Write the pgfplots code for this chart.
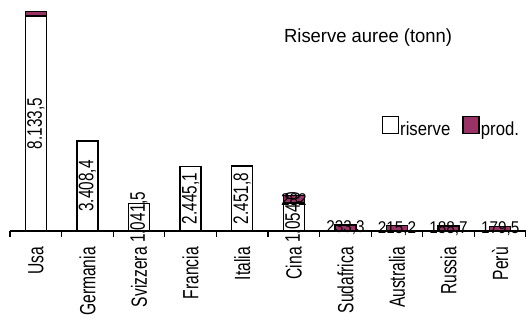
\documentclass[border=0pt]{standalone}
\usepackage{fontspec}
\setmainfont{Liberation Sans}
\newfontfamily\tickfont{Liberation Sans}[FakeStretch=0.71]
\newfontfamily\valfont{Liberation Sans}[FakeStretch=0.73]
\newfontfamily\prodfont{Liberation Sans}[FakeStretch=0.9]
\newfontfamily\titlefont{Liberation Sans}[FakeStretch=0.97]
\newfontfamily\legfont{Liberation Sans}[FakeStretch=0.88]
\usepackage{pgfplots}
\usepackage{pgfplotstable}
\pgfplotsset{compat=1.18}
\definecolor{plum}{RGB}{153,51,102}

\pgfplotstableread{
x riserve prod
0 8133.5 180
1 3408.4 0
2 1041.5 0
3 2445.1 0
4 2451.8 0
5 1054.0 282
6 0 233.3
7 0 215.2
8 0 188.7
9 0 179.5
}\datatable

\pgfplotstableread{
x y label
0 4066.75 8.133,5
1 1704.2 3.408,4
2 520.75 1.041,5
3 1222.55 2.445,1
4 1225.9 2.451,8
5 527.0 1.054,0
}\rlabels

\pgfplotstableread{
x y label
5 1195.0 282
6 116.65 233,3
7 107.6 215,2
8 94.35 188,7
9 89.75 179,5
}\plabels

\begin{document}
\begin{tikzpicture}
\useasboundingbox (-10bp,-93bp) rectangle (516bp,231bp);
\begin{axis}[name=ax, at={(0,0)}, anchor=south west,
  scale only axis, width=516bp, height=231bp,
  xmin=-0.5, xmax=9.5, ymin=0, ymax=8740,
  ybar stacked, bar width=21bp,
  axis y line=none, axis x line*=bottom,
  x axis line style={line width=1.2bp, black, -},
  xtick={0,...,9},
  xticklabels={Usa,Germania,Svizzera,Francia,Italia,Cina,Sudafrica,Australia,Russia,Perù},
  minor xtick={-0.5,0.5,...,9.5},
  major tick length=0pt, minor tick length=6bp, tick align=outside,
  minor tick style={line width=1.2bp, black},
  xticklabel style={yshift=-16bp, rotate=90, anchor=east, inner sep=0pt,
    font=\tickfont\fontsize{22bp}{26bp}\selectfont},
  title={Riserve auree (tonn)},
  title style={at={(0.694,0.81)}, anchor=center,
    font=\titlefont\fontsize{19bp}{22bp}\selectfont},
  legend style={draw=none, fill=none, at={(0.720,0.45)}, anchor=west,
    legend columns=2, inner sep=0pt,
    font=\legfont\fontsize{19bp}{22bp}\selectfont,
    nodes={inner sep=1bp}},
  legend image code/.code={\draw[#1, line width=1.5bp] (0bp,-4bp) rectangle (16bp,13bp);},
]
\addplot[fill=white, draw=black, line width=1.5bp] table[x=x, y=riserve]{\datatable};
\addplot[fill=plum, draw=black, line width=1.5bp] table[x=x, y=prod]{\datatable};
\legend{riserve\hspace*{11bp}, prod.}
\end{axis}
\begin{axis}[at={(0,0)}, anchor=south west,
  scale only axis, width=516bp, height=231bp,
  xmin=-0.5, xmax=9.5, ymin=0, ymax=8740,
  hide axis, clip=false]
\addplot[draw=none, mark=none, nodes near coords, point meta=explicit symbolic,
  every node near coord/.append style={rotate=90, anchor=center, inner sep=0pt,
    font=\valfont\fontsize{21bp}{25bp}\selectfont}]
  table[x=x, y=y, meta=label]{\rlabels};
\addplot[draw=none, mark=none, nodes near coords, point meta=explicit symbolic,
  every node near coord/.append style={anchor=center, inner sep=0pt,
    font=\prodfont\fontsize{17bp}{20bp}\selectfont}]
  table[x=x, y=y, meta=label]{\plabels};
\end{axis}
\end{tikzpicture}
\end{document}
